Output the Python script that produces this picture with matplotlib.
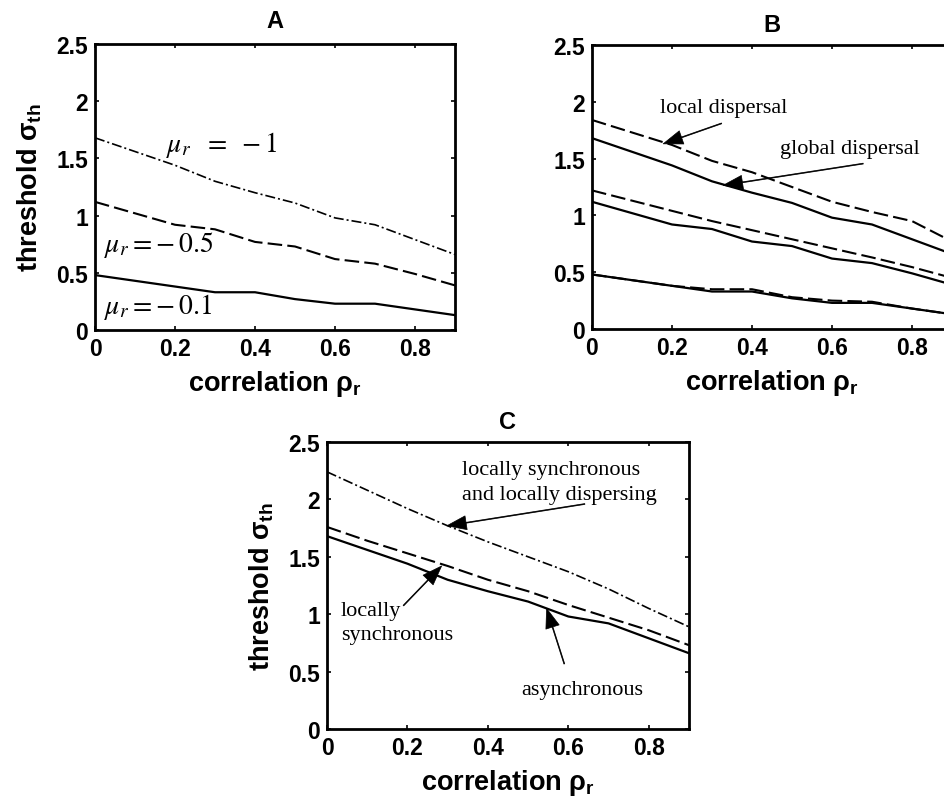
import matplotlib
matplotlib.use("Agg")
import matplotlib.pyplot as plt
import numpy as np

rho = [0, 0.1, 0.2, 0.3, 0.4, 0.5, 0.6, 0.7, 0.8, 0.9]

# global dispersal, asynchronous
glob_mu1 = [1.68, 1.56, 1.44, 1.30, 1.20, 1.11, 0.98, 0.92, 0.79, 0.66]
glob_mu05 = [1.12, 1.02, 0.92, 0.88, 0.77, 0.73, 0.62, 0.58, 0.49, 0.39]
glob_mu01 = [0.48, 0.43, 0.38, 0.33, 0.33, 0.27, 0.23, 0.23, 0.18, 0.13]

# local dispersal
loc_mu1 = [1.84, 1.73, 1.62, 1.48, 1.38, 1.25, 1.12, 1.03, 0.95, 0.77]
loc_mu05 = [1.22, 1.13, 1.04, 0.95, 0.87, 0.79, 0.71, 0.63, 0.545, 0.45]
loc_mu01 = [0.48, 0.43, 0.38, 0.35, 0.35, 0.28, 0.25, 0.24, 0.18, 0.13]

# panel C, mu_r = -1
sync = [1.76, 1.64, 1.53, 1.42, 1.30, 1.20, 1.08, 0.97, 0.86, 0.73]
sync_local = [2.24, 2.08, 1.92, 1.77, 1.63, 1.50, 1.37, 1.22, 1.05, 0.89]

yticks = [0, 0.5, 1, 1.5, 2, 2.5]
ytick_labels = ["0", "0.5", "1", "1.5", "2", "2.5"]
xticks = [0, 0.2, 0.4, 0.6, 0.8]
xtick_labels = ["0", "0.2", "0.4", "0.6", "0.8"]

plt.rcParams["font.family"] = ["Liberation Sans", "DejaVu Sans"]
plt.rcParams["mathtext.fontset"] = "custom"
plt.rcParams["mathtext.rm"] = "Liberation Sans"
plt.rcParams["mathtext.bf"] = "Liberation Sans:bold"
plt.rcParams["mathtext.it"] = "Liberation Sans:italic"

DASH = (0, (7, 2.5))
DASHDOT = (0, (6, 1.8, 1.2, 1.8))
serif = "Liberation Serif"
SFS = 16

fig = plt.figure(figsize=(9.44, 8.03), dpi=100)
W, H = 944, 803


def make_ax(x0, y_top, w, h, title, tpad, ylab=True):
    ax = fig.add_axes([x0 / W, 1 - (y_top + h) / H, w / W, h / H])
    ax.set_xlim(0, 0.9)
    ax.set_ylim(0, 2.5)
    ax.set_xticks(xticks)
    ax.set_xticklabels(xtick_labels)
    ax.set_yticks(yticks)
    ax.set_yticklabels(ytick_labels)
    ax.tick_params(direction="in", length=3, width=1.2, top=True, right=True,
                   labelsize=16.5, pad=5)
    for lab in ax.get_xticklabels() + ax.get_yticklabels():
        lab.set_fontweight("bold")
    for s in ax.spines.values():
        s.set_linewidth(2)
    ax.set_title(title, fontsize=17, fontweight="bold", pad=tpad)
    ax.set_xlabel(r"correlation ρ$_{\mathbf{r}}$", fontsize=19.5, fontweight="bold",
                  labelpad=6, math_fontfamily="custom")
    if ylab:
        ax.set_ylabel(r"threshold σ$_{\mathbf{th}}$", fontsize=19.5, fontweight="bold",
                      labelpad=9, math_fontfamily="custom")
    return ax


def arrow(ax, head, tail):
    ax.annotate("", xy=head, xytext=tail,
                arrowprops=dict(facecolor="black", edgecolor="black", width=0.6,
                                headwidth=10, headlength=14, lw=0.5, shrink=0))


# Panel A
axA = make_ax(95, 45, 360, 286, "A", 12)
axA.plot(rho, glob_mu1, color="k", lw=1.2, linestyle=DASHDOT)
axA.plot(rho, glob_mu05, color="k", lw=1.5, linestyle=DASH)
axA.plot(rho, glob_mu01, color="k", lw=1.6)
axA.text(0.177, 1.567, r"$\mu_r\ \ =\ -1$", fontsize=20, math_fontfamily="stix",
         va="baseline", ha="left")
axA.text(0.023, 0.69, r"$\mu_r = \!-0.5$", fontsize=20, math_fontfamily="stix",
         va="baseline", ha="left")
axA.text(0.023, 0.152, r"$\mu_r = \!-0.1$", fontsize=20, math_fontfamily="stix",
         va="baseline", ha="left")

# Panel B (right edge runs off the page, as in the original)
axB = make_ax(592, 46, 360, 284, "B", 10, ylab=False)
for g, l in [(glob_mu1, loc_mu1), (glob_mu05, loc_mu05), (glob_mu01, loc_mu01)]:
    axB.plot(rho, l, color="k", lw=1.5, linestyle=DASH)
    axB.plot(rho, g, color="k", lw=1.6)

axB.text(0.17, 1.91, "local dispersal", fontsize=SFS, family=serif, va="baseline")
axB.text(0.47, 1.553, "global dispersal", fontsize=SFS, family=serif, va="baseline")
arrow(axB, (0.178, 1.63), (0.324, 1.81))
arrow(axB, (0.328, 1.265), (0.678, 1.456))

# Panel C
axC = make_ax(327, 443, 362, 287, "C", 10)
axC.plot(rho, sync_local, color="k", lw=1.2, linestyle=DASHDOT)
axC.plot(rho, sync, color="k", lw=1.5, linestyle=DASH)
axC.plot(rho, glob_mu1, color="k", lw=1.6)
axC.text(0.335, 2.224, "locally synchronous", fontsize=SFS, family=serif, va="baseline")
axC.text(0.335, 2.006, "and locally dispersing", fontsize=SFS, family=serif, va="baseline")
axC.text(0.035, 0.994, "locally", fontsize=SFS, family=serif, va="baseline")
axC.text(0.035, 0.785, "synchronous", fontsize=SFS, family=serif, va="baseline")
axC.text(0.484, 0.305, "asynchronous", fontsize=SFS, family=serif, va="baseline")
arrow(axC, (0.298, 1.77), (0.641, 1.96))
arrow(axC, (0.285, 1.42), (0.19, 1.075))
arrow(axC, (0.546, 1.05), (0.59, 0.567))

fig.savefig("out.png", dpi=100)
